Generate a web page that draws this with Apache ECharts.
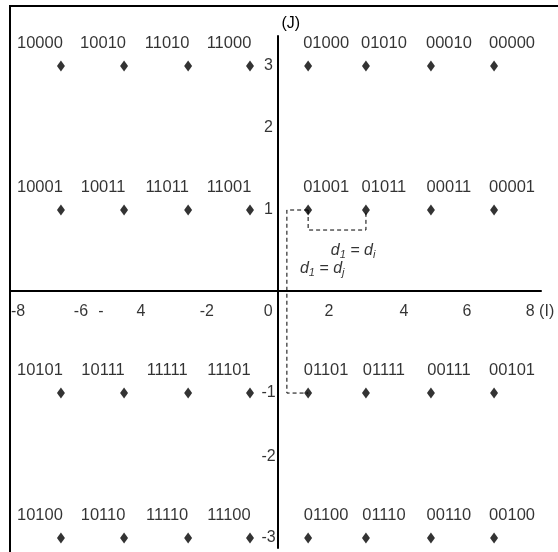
<!DOCTYPE html>
<html><head><meta charset="utf-8">
<script src="https://cdn.jsdelivr.net/npm/echarts@6/dist/echarts.min.js"></script>
<style>html,body{margin:0;padding:0;background:#fff}#c{width:558px;height:552px}</style>
</head><body><div id="c"></div>
<script>
// Column positions (I) and row positions (J)
const iCols = [-6.93, -4.91, -2.86, -0.88, 0.98, 2.83, 4.91, 6.93];
const jRows = [3.125, 1.125, -1.417, -3.431];
const codes = [
  ['10000','10010','11010','11000','01000','01010','00010','00000'],
  ['10001','10011','11011','11001','01001','01011','00011','00001'],
  ['10101','10111','11111','11101','01101','01111','00111','00101'],
  ['10100','10110','11110','11100','01100','01110','00110','00100']
];
// Axis tick labels as printed in the figure, and where they sit along the axis
const iTickLabels = ['-8','-6','-','4','-2','0','2','4','6','8 (I)'];
const iTickPos    = [-8.30,-6.29,-5.65,-4.37,-2.26,-0.30,1.65,4.05,6.06,8.40];
const jTickLabels = ['3','2','1','-1','-2','-3'];
const jTickPos    = [3.125,2.264,1.125,-1.417,-2.306,-3.431];
// Annotation: distance markers
const connectorI = 0.30;   // dashed connector column
const bracketJ = 0.847;    // dashed bracket level
const noteTexts = [
  {i: 2.42, j: 0.56, sub: 'i'},
  {i: 1.43, j: 0.31, sub: 'j'}
];

const FONT = '"Liberation Sans", Arial, sans-serif';
const chart = echarts.init(document.getElementById('c'), null, {renderer: 'canvas'});

const pts = [];
codes.forEach((row, r) => row.forEach((code, c) => {
  pts.push({
    value: [iCols[c], jRows[r], code],
    label: {offset: c < 4 ? [-21, -23] : [18, -23]}
  });
}));

const p1 = [iCols[4], jRows[1]], p2 = [iCols[5], jRows[1]], p3 = [iCols[4], jRows[2]];
const connector = [[p1[0], p1[1]], [connectorI, p1[1]], [connectorI, p3[1]], [p3[0], p3[1]]];
const bracket = [[p1[0], p1[1]], [p1[0], bracketJ], [p2[0], bracketJ], [p2[0], p2[1]]];

const dashStyle = {color: '#000', width: 1, type: [4, 3]};

chart.setOption({
  animation: false,
  backgroundColor: '#fff',
  grid: {left: 10, right: 17, top: 36, bottom: 4, containLabel: false},
  xAxis: {
    type: 'value', min: -8.56, max: 8.432,
    axisLine: {show: true, onZero: true, lineStyle: {color: '#000', width: 2}},
    axisTick: {show: false}, axisLabel: {show: false}, splitLine: {show: false}
  },
  yAxis: {
    type: 'value', min: -3.569, max: 3.5417,
    name: '(J)', nameLocation: 'end', nameGap: 4,
    nameTextStyle: {color: '#000', fontFamily: FONT, fontSize: 16, align: 'left', padding: [0, 0, 0, 4]},
    axisLine: {show: true, onZero: true, lineStyle: {color: '#000', width: 2}},
    axisTick: {show: false}, axisLabel: {show: false}, splitLine: {show: false}
  },
  graphic: [{
    type: 'rect', shape: {x: 10, y: 6, width: 700, height: 700},
    style: {fill: 'none', stroke: '#000', lineWidth: 2}, z: 100
  }],
  series: [
    {
      type: 'line', data: connector, symbol: 'none', lineStyle: dashStyle, z: 2, clip: false
    },
    {
      type: 'line', data: bracket, symbol: 'none', lineStyle: dashStyle, z: 2, clip: false
    },
    {
      type: 'scatter', data: pts, symbol: 'diamond', symbolSize: [8, 11], clip: false, z: 5,
      itemStyle: {color: '#000'},
      label: {
        show: true, position: 'inside', color: '#000', fontFamily: FONT, fontSize: 16.5,
        formatter: p => p.value[2]
      }
    },
    {
      type: 'scatter', symbolSize: 0, clip: false, silent: true,
      data: iTickLabels.map((t, k) => [iTickPos[k], 0, t]),
      label: {show: true, position: 'inside', offset: [0, 21], color: '#000', fontFamily: FONT, fontSize: 16,
        formatter: p => p.value[2]}
    },
    {
      type: 'scatter', symbolSize: 0, clip: false, silent: true,
      data: jTickLabels.map((t, k) => [0, jTickPos[k], t]),
      label: {show: true, position: 'inside', offset: [-9, 0], color: '#000', fontFamily: FONT, fontSize: 16,
        formatter: p => p.value[2]}
    },
    {
      type: 'scatter', symbolSize: 0, clip: false, silent: true,
      data: noteTexts.map(n => [n.i, n.j, n.sub]),
      label: {show: true, position: 'inside', color: '#000',
        formatter: p => '{a|d}{s|1}{a| = d}{s|' + p.value[2] + '}',
        rich: {
          a: {fontFamily: FONT, fontStyle: 'italic', fontSize: 16, color: '#000'},
          s: {fontFamily: FONT, fontStyle: 'italic', fontSize: 11, color: '#000', padding: [9, 0, 0, 0]}
        }
      }
    }
  ]
});
</script></body></html>
